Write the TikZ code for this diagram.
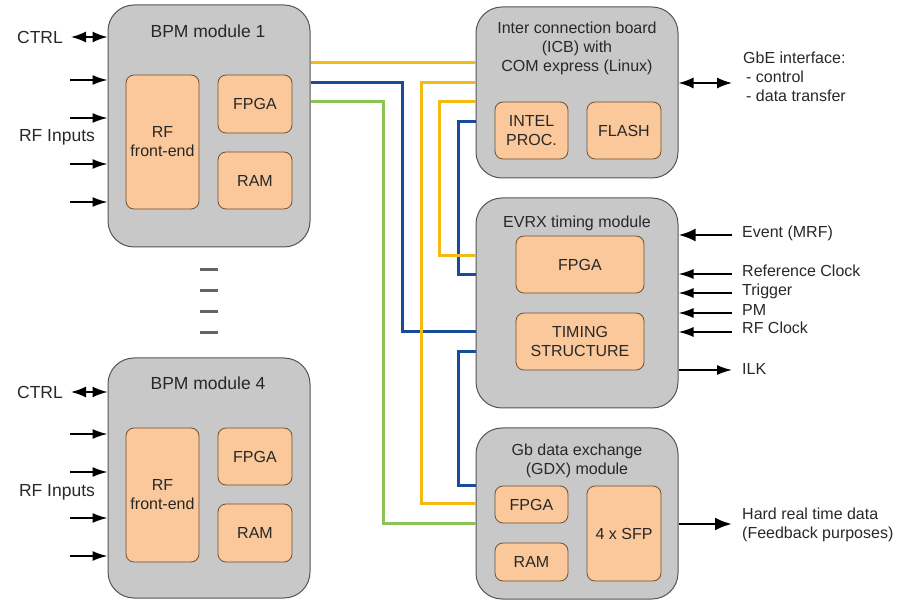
\documentclass[tikz,border=0pt]{standalone}
\usepackage{fontspec}
\setmainfont{Liberation Sans}
\usetikzlibrary{arrows.meta}
\definecolor{boxgray}{RGB}{200,200,200}
\definecolor{boxedge}{RGB}{85,85,85}
\definecolor{peach}{RGB}{250,200,155}
\definecolor{peachedge}{RGB}{110,80,50}
\definecolor{cyel}{RGB}{245,185,20}
\definecolor{cblue}{RGB}{25,75,155}
\definecolor{cgreen}{RGB}{140,195,85}
\definecolor{txt}{RGB}{40,40,40}
\definecolor{dashgray}{RGB}{100,100,100}
\tikzset{
 bigbox/.style={draw=boxedge, fill=boxgray, line width=1pt, rounded corners=26pt, inner sep=0pt, minimum width=202pt},
 chip/.style={draw=peachedge, fill=peach, line width=0.8pt, rounded corners=8pt, align=center, inner sep=0pt, font=\fontsize{16}{19}\selectfont, text=txt},
 lbl/.style={font=\fontsize{16}{19}\selectfont, text=txt, inner sep=0pt, align=left},
 biglbl/.style={font=\fontsize{17.5}{21}\selectfont, text=txt, inner sep=0pt, align=center},
 ttl/.style={font=\fontsize{16}{19}\selectfont, text=txt, inner sep=0pt, align=center},
 bus/.style={line width=3pt},
 sig/.style={line width=1.6pt, -{Latex[length=15pt,width=10pt]}},
 bigsig/.style={line width=2.8pt, -{Latex[length=17pt,width=13pt]}},
 dbl/.style={line width=1.6pt, {Latex[length=15pt,width=11pt]}-{Latex[length=15pt,width=11pt]}},
 dashmark/.style={line width=3pt, draw=dashgray},
}
\begin{document}
\begin{tikzpicture}[x=1pt,y=-1pt]
\useasboundingbox (0,0) rectangle (903,601);

% ---------- BPM module 1 ----------
\node[bigbox, minimum height=242pt] (bpm1) at (209,126) {};
\node[biglbl] (bpm1t) at (208,31) {BPM module 1};
\node[chip, minimum width=73pt, minimum height=134pt] (bpm1rf) at (162.5,142) {RF\\front-end};
\node[chip, minimum width=74pt, minimum height=58pt] (bpm1fpga) at (255,104) {FPGA};
\node[chip, minimum width=74pt, minimum height=57pt] (bpm1ram) at (255,180.5) {RAM};

% ---------- BPM module 4 ----------
\node[bigbox, minimum height=240pt] (bpm4) at (209,478) {};
\node[biglbl] (bpm4t) at (208,383) {BPM module 4};
\node[chip, minimum width=73pt, minimum height=134pt] (bpm4rf) at (162.5,495) {RF\\front-end};
\node[chip, minimum width=74pt, minimum height=57pt] (bpm4fpga) at (255,456.5) {FPGA};
\node[chip, minimum width=74pt, minimum height=58pt] (bpm4ram) at (255,533) {RAM};

% ---------- ICB ----------
\node[bigbox, minimum height=171pt] (icb) at (577,92.5) {};
\node[ttl] (icbt) at (577,48) {Inter connection board\\(ICB) with\\COM express (Linux)};
\node[chip, minimum width=73pt, minimum height=57pt] (intel) at (531.5,130.5) {INTEL\\PROC.};
\node[chip, minimum width=74pt, minimum height=57pt] (flash) at (624,130.5) {FLASH};

% ---------- EVRX ----------
\node[bigbox, minimum height=210pt] (evrx) at (577,303) {};
\node[ttl] (evrxt) at (577,223) {EVRX timing module};
\node[chip, minimum width=128pt, minimum height=57pt] (evfpga) at (580,264.5) {FPGA};
\node[chip, minimum width=128pt, minimum height=57pt] (timing) at (580,341.5) {TIMING\\STRUCTURE};

% ---------- GDX ----------
\node[bigbox, minimum height=171pt] (gdx) at (577,513.5) {};
\node[ttl] (gdxt) at (577,461) {Gb data exchange\\(GDX) module};
\node[chip, minimum width=73pt, minimum height=37pt] (gdxfpga) at (531.5,504.5) {FPGA};
\node[chip, minimum width=73pt, minimum height=38pt] (gdxram) at (531.5,562) {RAM};
\node[chip, minimum width=74pt, minimum height=95pt] (sfp) at (624,533.5) {4 x SFP};

% ---------- bus levels ----------
\coordinate (yA) at (0,63);
\coordinate (yB) at (0,83);
\coordinate (yC) at (0,102);
\coordinate (yD) at (0,122);
\coordinate (yE) at (0,256);
\coordinate (yF) at (0,275);
\coordinate (yG) at (0,332);
\coordinate (yH) at (0,352);
\coordinate (yI) at (0,486);
\coordinate (yJ) at (0,504);
\coordinate (yK) at (0,524);

\draw[bus,cblue] (bpm1.east |- yB) -| (402,332) -- (evrx.west |- yG);
\draw[bus,cblue] (icb.west |- yD) -| (458,275) -- (evrx.west |- yF);
\draw[bus,cblue] (evrx.west |- yH) -| (458,486) -- (gdx.west |- yI);
\draw[bus,cgreen] (bpm1.east |- yC) -| (383,524) -- (gdx.west |- yK);
\draw[bus,cyel] (bpm1.east |- yA) -- (icb.west |- yA);
\draw[bus,cyel] (icb.west |- yB) -| (421,504) -- (gdx.west |- yJ);
\draw[bus,cyel] (icb.west |- yC) -| (439,256) -- (evrx.west |- yE);

% ---------- dashes between BPM modules ----------
\draw[dashmark] (200,270) -- (218,270);
\draw[dashmark] (200,291) -- (218,291);
\draw[dashmark] (200,312) -- (218,312);
\draw[dashmark] (200,333) -- (218,333);

% ---------- left side of BPM 1 ----------
\node[biglbl] (ctrl1) at (40,37) {CTRL};
\node[biglbl] (rfin1) at (57,137) {RF Inputs};
\coordinate (c1) at (71,37);
\draw[dbl] (c1) -- (bpm1.west |- c1);
\coordinate (i1a) at (70,80);
\coordinate (i1b) at (70,118);
\coordinate (i1c) at (70,164);
\coordinate (i1d) at (70,202);
\draw[sig] (i1a) -- (bpm1.west |- i1a);
\draw[sig] (i1b) -- (bpm1.west |- i1b);
\draw[sig] (i1c) -- (bpm1.west |- i1c);
\draw[sig] (i1d) -- (bpm1.west |- i1d);

% ---------- left side of BPM 4 ----------
\node[biglbl] (ctrl4) at (40,392) {CTRL};
\node[biglbl] (rfin4) at (57,492) {RF Inputs};
\coordinate (c4) at (71,392);
\draw[dbl] (c4) -- (bpm4.west |- c4);
\coordinate (i4a) at (70,434);
\coordinate (i4b) at (70,472);
\coordinate (i4c) at (70,518);
\coordinate (i4d) at (70,556);
\draw[sig] (i4a) -- (bpm4.west |- i4a);
\draw[sig] (i4b) -- (bpm4.west |- i4b);
\draw[sig] (i4c) -- (bpm4.west |- i4c);
\draw[sig] (i4d) -- (bpm4.west |- i4d);

% ---------- right side ----------
\coordinate (gbe) at (732,83);
\draw[dbl] (icb.east |- gbe) -- (gbe);
\node[lbl, anchor=west] (gbet) at (743,77) {GbE interface:\\\hspace*{3pt}- control\\\hspace*{3pt}- data transfer};

\coordinate (ev) at (732,235);
\draw[bigsig] (ev) -- (evrx.east |- ev);
\node[lbl, anchor=west] (evt) at (742,233) {Event (MRF)};

\coordinate (rc) at (732,274);
\draw[sig] (rc) -- (evrx.east |- rc);
\node[lbl, anchor=west] (rct) at (742,271) {Reference Clock};

\coordinate (tr) at (732,293);
\draw[sig] (tr) -- (evrx.east |- tr);
\node[lbl, anchor=west] (trt) at (742,291) {Trigger};

\coordinate (pm) at (732,313);
\draw[sig] (pm) -- (evrx.east |- pm);
\node[lbl, anchor=west] (pmt) at (742,310) {PM};

\coordinate (rfc) at (732,332);
\draw[sig] (rfc) -- (evrx.east |- rfc);
\node[lbl, anchor=west] (rfct) at (742,328) {RF Clock};

\coordinate (ilk) at (732,370);
\draw[sig] (evrx.east |- ilk) -- (ilk);
\node[lbl, anchor=west] (ilkt) at (742,369) {ILK};

\coordinate (hrt) at (732,524);
\draw[bigsig] (gdx.east |- hrt) -- (hrt);
\node[lbl, anchor=west] (hrtt) at (742,525) {Hard real time data\\(Feedback purposes)};
\end{tikzpicture}
\end{document}
